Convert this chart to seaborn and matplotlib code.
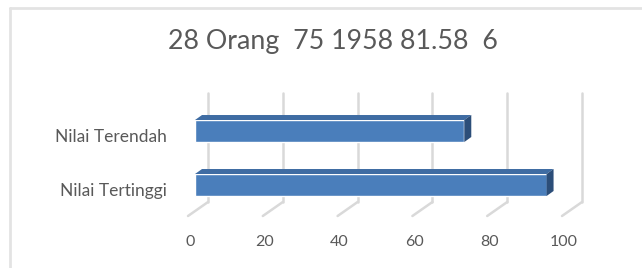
import numpy as np
import seaborn as sns
import matplotlib.pyplot as plt
import matplotlib.transforms as mtransforms
from matplotlib.patches import Polygon
from matplotlib.lines import Line2D

# data
categories = ['Nilai Terendah', 'Nilai Tertinggi']
values = [72, 94]
ticks = [0, 20, 40, 60, 80, 100]
title = '28 Orang  75 1958 81.58  6'

sns.set_style('white')
plt.rcParams['font.family'] = ['Lato', 'DejaVu Sans']
text_color = '#595959'
grid_color = '#d9d9d9'

W, H = 642, 268
fig = plt.figure(figsize=(W / 100, H / 100), dpi=100)

# chart border (left + top)
fig.add_artist(Line2D([10 / W, 10 / W], [0, 1 - 8 / H], transform=fig.transFigure,
                      color='#e3e3e3', lw=2))
fig.add_artist(Line2D([10 / W, 1], [1 - 8 / H, 1 - 8 / H], transform=fig.transFigure,
                      color='#e3e3e3', lw=2))

ax = fig.add_axes([195 / W, (H - 216) / H, 374 / W, (216 - 93) / H])

sns.barplot(x=values, y=categories, orient='h', color='#4A7EBB', width=22 / 54,
            saturation=1, ax=ax, zorder=3)
ax.set_xlim(0, 100)
ax.set_ylim(1.574, -0.704)

# pixel -> data helpers
px_x = 100 / 374
px_y = 1 / 54

# 3d-ish back gridlines and floor diagonals
for v in ticks:
    xb = v + 13 * px_x
    ax.plot([xb, xb], [-0.704, 1.315], color=grid_color, lw=1.8, zorder=1, clip_on=False)
    ax.plot([xb, v - 7 * px_x], [1.315, 1.574], color=grid_color, lw=1.8, zorder=1,
            clip_on=False)

# bar top and side faces
ddx, ddy = 7 * px_x, 5 * px_y
for p in ax.patches:
    x0, y0 = p.get_x(), p.get_y()
    w, h = p.get_width(), p.get_height()
    top = Polygon([(x0, y0), (x0 + w, y0), (x0 + w + ddx, y0 - ddy), (x0 + ddx, y0 - ddy)],
                  closed=True, facecolor='#3F6CA3', edgecolor='none', zorder=3, clip_on=False)
    side = Polygon([(x0 + w, y0), (x0 + w + ddx, y0 - ddy), (x0 + w + ddx, y0 + h - ddy),
                    (x0 + w, y0 + h)],
                   closed=True, facecolor='#2C4E79', edgecolor='none', zorder=3, clip_on=False)
    ax.add_patch(top)
    ax.add_patch(side)

ax.set_xticks(ticks)
ax.tick_params(axis='x', length=0, pad=14, labelsize=11.5, labelcolor=text_color)
ax.tick_params(axis='y', length=0, pad=20, labelsize=12.5, labelcolor=text_color)
for lab in ax.get_xticklabels():
    lab.set_transform(lab.get_transform() + mtransforms.ScaledTranslation(-5 / 100, 0, fig.dpi_scale_trans))
for lab in ax.get_yticklabels():
    lab.set_transform(lab.get_transform() + mtransforms.ScaledTranslation(0, -4 / 100, fig.dpi_scale_trans))
ax.set_xlabel('')
ax.set_ylabel('')
sns.despine(ax=ax, left=True, bottom=True)

fig.text(333 / W, 1 - 41 / H, title, ha='center', va='center', fontsize=19.3, color=text_color)

plt.savefig('out.png', dpi=100)
